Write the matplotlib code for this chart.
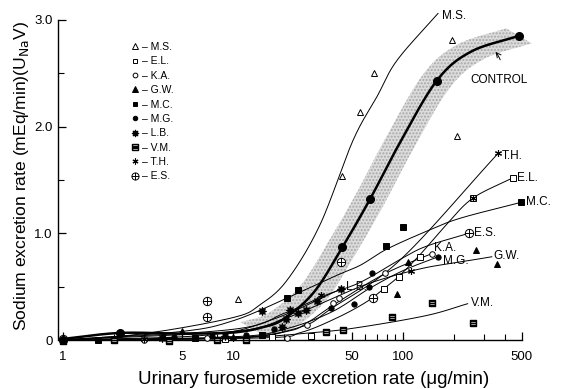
import numpy as np
import matplotlib
matplotlib.use("Agg")
import matplotlib.pyplot as plt
from matplotlib.path import Path
from matplotlib.lines import Line2D

plt.rcParams['font.family'] = ['Liberation Sans', 'DejaVu Sans']

# ---------------- data ----------------
subjects = ["M.S.", "E.L.", "K.A.", "G.W.", "M.C.", "M.G.", "L.B.", "V.M.", "T.H.", "E.S."]

# measured points (x: furosemide ug/min, y: Na excretion)
ms_x = [1, 10.7, 43.8, 55.6, 67.3, 194, 208]
ms_y = [0.02, 0.38, 1.54, 2.14, 2.50, 2.81, 1.91]
el_x = [1, 4.2, 9, 16.9, 28.6, 77.3, 94.7, 126, 258, 444]
el_y = [0.0, 0.0, 0.01, 0.03, 0.04, 0.48, 0.59, 0.78, 1.33, 1.52]
ka_x = [1, 3, 7, 20.8, 27.3, 39, 42, 78, 148]
ka_y = [0.01, 0.0, 0.02, 0.02, 0.14, 0.35, 0.39, 0.63, 0.81]
gw_x = [1, 5, 10, 92, 107, 268, 357]
gw_y = [0.0, 0.08, 0.03, 0.43, 0.73, 0.84, 0.71]
mc_x = [1, 1.6, 6, 14.8, 20.8, 24.1, 79.4, 100, 495]
mc_y = [-0.01, 0.0, 0.02, 0.05, 0.39, 0.47, 0.88, 1.06, 1.29]
mg_x = [1, 4.5, 7.5, 12, 17.5, 37.8, 51.5, 63, 65.6, 161]
mg_y = [0.0, 0.03, 0.04, 0.05, 0.10, 0.30, 0.34, 0.50, 0.63, 0.78]
lb_x = [1, 3.8, 9, 14.8, 19.5, 20.5, 21.5, 24, 27, 31, 43.2]
lb_y = [0.0, 0.02, 0.04, 0.27, 0.12, 0.20, 0.28, 0.25, 0.28, 0.37, 0.48]
vm_x = [1, 2, 4.2, 8, 12, 35.2, 44.4, 86, 149, 258]
vm_y = [-0.01, 0.0, -0.01, 0.0, 0.0, 0.075, 0.09, 0.22, 0.35, 0.16]
th_x = [1, 3, 10, 33, 112, 258, 363]
th_y = [0.0, 0.01, 0.02, 0.42, 0.65, 1.33, 1.75]
es_x = [1, 7, 7, 43, 66.7, 244]
es_y = [0.01, 0.37, 0.22, 0.73, 0.39, 1.0]
ctrl_x = [1, 2.16, 44, 64, 158, 480]
ctrl_y = [0.0, 0.066, 0.87, 1.32, 2.43, 2.85]

# fitted curves drawn in the figure
ms_cx = [1, 3, 10, 14.4, 20.8, 32.5, 50.8, 70.3, 92.2, 160.7]
ms_cy = [0.0, 0.06, 0.21, 0.33, 0.56, 1.08, 1.87, 2.28, 2.62, 3.06]
el_cx = [1, 15, 25, 40, 60, 77, 95, 126, 180, 258, 444]
el_cy = [0.0, 0.02, 0.07, 0.2, 0.35, 0.48, 0.6, 0.8, 1.08, 1.33, 1.52]
ka_cx = [1, 10, 20.8, 27.3, 40, 78, 148]
ka_cy = [0.0, 0.02, 0.08, 0.16, 0.34, 0.62, 0.81]
gw_cx = [1, 10, 20, 35, 56, 87, 138, 216, 333]
gw_cy = [0.0, 0.08, 0.2, 0.36, 0.5, 0.6, 0.68, 0.73, 0.78]
mc_cx = [1, 5, 10, 20, 40, 56, 80, 138, 216, 495]
mc_cy = [0.0, 0.08, 0.18, 0.38, 0.6, 0.7, 0.85, 1.02, 1.14, 1.29]
mg_cx = [1, 10, 20, 37.8, 63, 100, 161]
mg_cy = [0.0, 0.03, 0.1, 0.26, 0.48, 0.65, 0.78]
lb_cx = [1, 5, 10, 15, 22, 31, 43.2]
lb_cy = [0.0, 0.03, 0.08, 0.16, 0.26, 0.37, 0.48]
vm_cx = [1, 10, 30, 56, 138, 240]
vm_cy = [0.0, 0.02, 0.07, 0.12, 0.23, 0.34]
th_cx = [1, 10, 24.8, 38.3, 96.2, 363]
th_cy = [0.0, 0.02, 0.12, 0.30, 0.75, 1.75]
es_cx = [1, 10, 20, 35, 56, 100, 138, 244]
es_cy = [0.0, 0.1, 0.25, 0.42, 0.54, 0.77, 0.88, 1.0]
ctrl_cx = [1, 2.16, 5, 10, 15, 20, 30, 44, 64, 96, 158, 250, 480]
ctrl_cy = [0.01, 0.066, 0.06, 0.07, 0.12, 0.2, 0.45, 0.87, 1.32, 1.85, 2.43, 2.7, 2.85]

x_ticks = [1, 5, 10, 50, 100, 500]
x_ticklabels = ["1", "5", "10", "50", "100", "500"]
y_ticks = [0, 1, 2, 3]
y_ticklabels = ["0", "1.0", "2.0", "3.0"]

# ---------------- helpers ----------------
def smooth(xs, ys, n=24):
    lx = np.log10(np.asarray(xs, float)); y = np.asarray(ys, float)
    P = np.column_stack([lx, y])
    P = np.vstack([2 * P[0] - P[1], P, 2 * P[-1] - P[-2]])
    out = []
    t = np.linspace(0, 1, n, endpoint=False)
    for i in range(1, len(P) - 2):
        p0, p1, p2, p3 = P[i - 1], P[i], P[i + 1], P[i + 2]
        for tt in t:
            out.append(0.5 * ((2 * p1) + (-p0 + p2) * tt + (2 * p0 - 5 * p1 + 4 * p2 - p3) * tt ** 2
                              + (-p0 + 3 * p1 - 3 * p2 + p3) * tt ** 3))
    out.append(P[-2])
    out = np.array(out)
    return 10 ** out[:, 0], out[:, 1]

M, L = Path.MOVETO, Path.LINETO
circ = Path.unit_circle()
cross = Path([[-1, 0], [1, 0], [0, -1], [0, 1]], [M, L, M, L])
es_marker = Path.make_compound_path(circ, cross)
sq = Path([[-1, -1], [1, -1], [1, 1], [-1, 1], [-1, -1]], [M, L, L, L, L])
bar = Path([[-1, 0.0], [1, 0.0], [-1, 0.45], [1, 0.45], [-1, -0.45], [1, -0.45]], [M, L, M, L, M, L])
vm_marker = Path.make_compound_path(sq, bar)

styles = {
    "M.S.": dict(marker='^', mfc='white', mec='k', ms=5, mew=0.7),
    "E.L.": dict(marker='s', mfc='white', mec='k', ms=4, mew=0.7),
    "K.A.": dict(marker='o', mfc='white', mec='k', ms=4, mew=0.7),
    "G.W.": dict(marker='^', mfc='k', mec='k', ms=5, mew=0.7),
    "M.C.": dict(marker='s', mfc='k', mec='k', ms=3.8, mew=0.7),
    "M.G.": dict(marker='o', mfc='k', mec='k', ms=3.8, mew=0.7),
    "L.B.": dict(marker=(8, 1, 0), mfc='k', mec='k', ms=6, mew=0.7),
    "V.M.": dict(marker=vm_marker, mfc='white', mec='k', ms=5, mew=1.0),
    "T.H.": dict(marker=(6, 2, 0), mfc='k', mec='k', ms=5, mew=0.8),
    "E.S.": dict(marker=es_marker, mfc='white', mec='k', ms=6, mew=0.7),
}
pts = {"M.S.": (ms_x, ms_y), "E.L.": (el_x, el_y), "K.A.": (ka_x, ka_y), "G.W.": (gw_x, gw_y),
       "M.C.": (mc_x, mc_y), "M.G.": (mg_x, mg_y), "L.B.": (lb_x, lb_y), "V.M.": (vm_x, vm_y),
       "T.H.": (th_x, th_y), "E.S.": (es_x, es_y)}
curves = {"M.S.": (ms_cx, ms_cy), "E.L.": (el_cx, el_cy), "K.A.": (ka_cx, ka_cy), "G.W.": (gw_cx, gw_cy),
          "M.C.": (mc_cx, mc_cy), "M.G.": (mg_cx, mg_cy), "L.B.": (lb_cx, lb_cy), "V.M.": (vm_cx, vm_cy),
          "T.H.": (th_cx, th_cy), "E.S.": (es_cx, es_cy)}

# ---------------- figure ----------------
fig = plt.figure(figsize=(5.62, 3.89), dpi=100)
ax = fig.add_axes([0.1025, 0.1095, 0.85, 0.867])
ax.set_xscale('log')
ax.set_xlim(0.93, 600)
ax.set_ylim(-0.06, 3.1)

# control band
cx, cy = smooth(ctrl_cx, ctrl_cy)
sel = cx >= 13
lcx = np.log10(cx[sel]); ccy = cy[sel]
d, e = 0.075, 0.07
up_x = 10 ** (lcx - d); up_y = ccy + e
lo_x = 10 ** (lcx + d); lo_y = ccy - e
poly_x = np.concatenate([up_x, lo_x[::-1]])
poly_y = np.concatenate([up_y, lo_y[::-1]])
ax.fill(poly_x, poly_y, facecolor='#dcdcdc', edgecolor='#a8a8a8', hatch='.....', linewidth=0, zorder=1)

# subject curves and points
for s in subjects:
    sx, sy = smooth(*curves[s])
    ax.plot(sx, sy, color='k', lw=0.7, zorder=2)
for s in subjects:
    ax.plot(*pts[s], linestyle='none', color='k', zorder=4, **styles[s])

# control
ax.plot(cx, cy, color='k', lw=1.8, zorder=3)
ax.plot(ctrl_x, ctrl_y, 'o', color='k', ms=5.5, zorder=5)

# curve labels
lab_kw = dict(fontsize=8.5, va='center', ha='left')
ax.text(170, 3.04, "M.S.", **lab_kw)
ax.text(380, 1.72, "T.H.", **lab_kw)
ax.text(470, 1.52, "E.L.", **lab_kw)
ax.text(530, 1.29, "M.C.", **lab_kw)
ax.text(260, 1.0, "E.S.", **lab_kw)
ax.text(152, 0.86, "K.A.", **lab_kw)
ax.text(172, 0.74, "M.G.", **lab_kw)
ax.text(338, 0.79, "G.W.", **lab_kw)
ax.text(46, 0.5, "L.B.", **lab_kw)
ax.text(250, 0.35, "V.M.", **lab_kw)
ax.annotate("CONTROL", xy=(350, 2.7), xytext=(250, 2.44), fontsize=8.5, va='center', ha='left',
            arrowprops=dict(arrowstyle='->', lw=0.7, color='k', connectionstyle='arc3,rad=0.3',
                            shrinkA=8, shrinkB=0))

# legend
handles = [Line2D([], [], linestyle='none', color='k', **styles[s]) for s in subjects]
labels = ["\u2013 " + s for s in subjects]
leg = ax.legend(handles, labels, loc='upper left', bbox_to_anchor=(0.145, 0.918), frameon=False,
                fontsize=7.5, handlelength=0.6, handletextpad=0.4, labelspacing=0.42,
                borderpad=0, markerscale=0.85)

# axes styling
for sp in ['top', 'right']:
    ax.spines[sp].set_visible(False)
ax.spines['bottom'].set_position(('data', 0))
ax.spines['bottom'].set_bounds(1, 500)
ax.spines['left'].set_bounds(0, 3)
ax.spines['bottom'].set_linewidth(1.0)
ax.spines['left'].set_linewidth(1.0)
ax.set_xticks(x_ticks)
ax.set_xticklabels(x_ticklabels)
ax.set_xticks([v for v in list(range(2, 10)) + list(range(20, 100, 10)) + list(range(200, 500, 100))
               if v not in x_ticks], minor=True)
ax.xaxis.set_minor_formatter(matplotlib.ticker.NullFormatter())
ax.set_yticks(y_ticks)
ax.set_yticklabels(y_ticklabels)
ax.set_yticks([0.5, 1.5, 2.5], minor=True)
ax.tick_params(axis='both', which='major', direction='in', length=6, width=0.9, labelsize=9.5)
ax.tick_params(axis='both', which='minor', direction='in', length=4, width=0.8)
ax.tick_params(axis='x', pad=8)

fig.text(313.5 / 562, 1 - 379 / 389, "Urinary furosemide excretion rate (\u03bcg/min)",
         fontsize=13.5, ha='center', va='center')
fig.text(22 / 562, 1 - 176 / 389, "Sodium excretion rate (mEq/min)(U$_{\\mathrm{Na}}$V)",
         fontsize=12.6, ha='center', va='center', rotation=90)

fig.savefig("out.png", dpi=100)
